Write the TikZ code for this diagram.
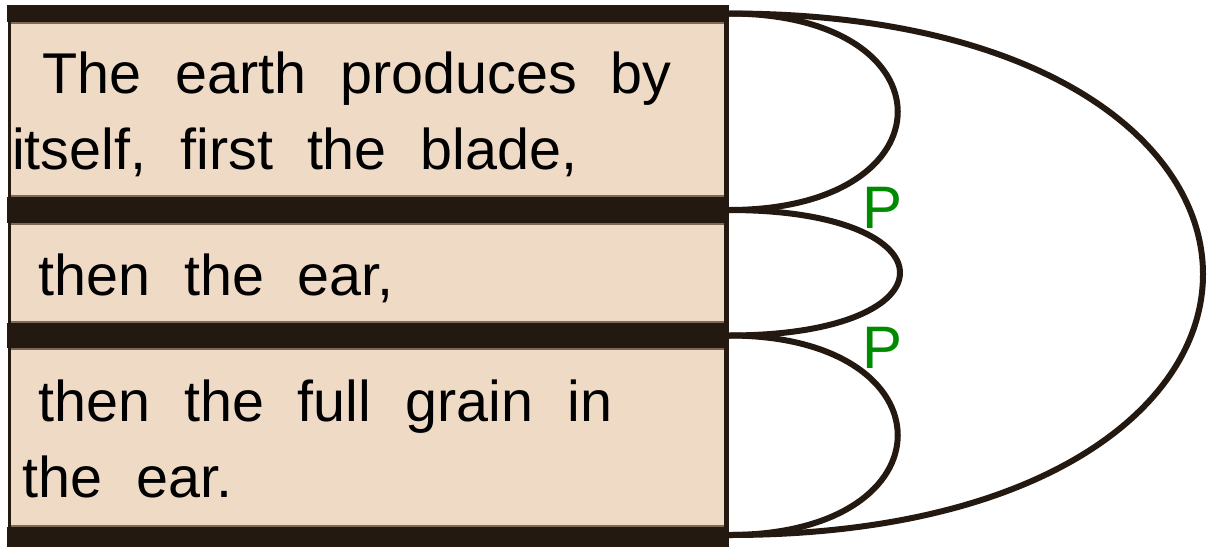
\documentclass[tikz,border=0pt]{standalone}
\usepackage{fontspec}
\setmainfont{Liberation Sans}
\definecolor{dark}{RGB}{35,25,17}
\definecolor{beige}{RGB}{239,218,198}
\definecolor{pgreen}{RGB}{0,138,0}
\definecolor{edgec}{RGB}{125,105,90}
\begin{document}
\begin{tikzpicture}[x=1pt,y=-1pt,
  txt/.style={anchor=base west, inner sep=0pt, font=\fontsize{57.5}{60}\selectfont},
  plabel/.style={anchor=base west, inner sep=0pt, text=pgreen, font=\fontsize{60}{62}\selectfont},
  arcline/.style={draw=dark, line width=6pt},
  bar/.style={fill=dark}]
\useasboundingbox (0,0) rectangle (1211,547);
% box fill and thin inner edges
\fill[beige] (8,22) rectangle (727,527);
\foreach \a/\b in {22/197, 223/323, 348/527}
  \draw[edgec, line width=1.5pt] (9,\a+1) rectangle (726,\b-1);
% dark bars and borders
\fill[bar] (7,5) rectangle (729,22);
\fill[bar] (7,197) rectangle (729,223);
\fill[bar] (7,323) rectangle (729,348);
\fill[bar] (7,527) rectangle (729,547);
\fill[bar] (8,5) rectangle (11,547);
\fill[bar] (724,5) rectangle (729,547);
% anchor points of the arcs
\coordinate (t0) at (729,13.5);
\coordinate (t1) at (729,210);
\coordinate (t2) at (729,335.5);
\coordinate (t3) at (729,535);
\draw[arcline] (t0) .. controls +(225,0) and +(225,0) .. (t1);
\draw[arcline] (t1) .. controls +(228,0) and +(228,0) .. (t2);
\draw[arcline] (t2) .. controls +(225,0) and +(225,0) .. (t3);
\draw[arcline] (t0) .. controls +(632,0) and +(632,0) .. (t3);
% texts
\node[txt] (l1) at (42,93) {\spaceskip=34pt The earth produces by};
\node[txt] (l2) at (12,169) {\spaceskip=34pt itself, first the blade,};
\node[txt] (l3) at (38,295) {\spaceskip=34pt then the ear,};
\node[txt] (l4) at (38,421) {\spaceskip=34pt then the full grain in};
\node[txt] (l5) at (22,497) {\spaceskip=34pt the ear.};
\node[plabel] (p1) at (862,228) {P};
\node[plabel] (p2) at (862,368) {P};
\end{tikzpicture}
\end{document}
